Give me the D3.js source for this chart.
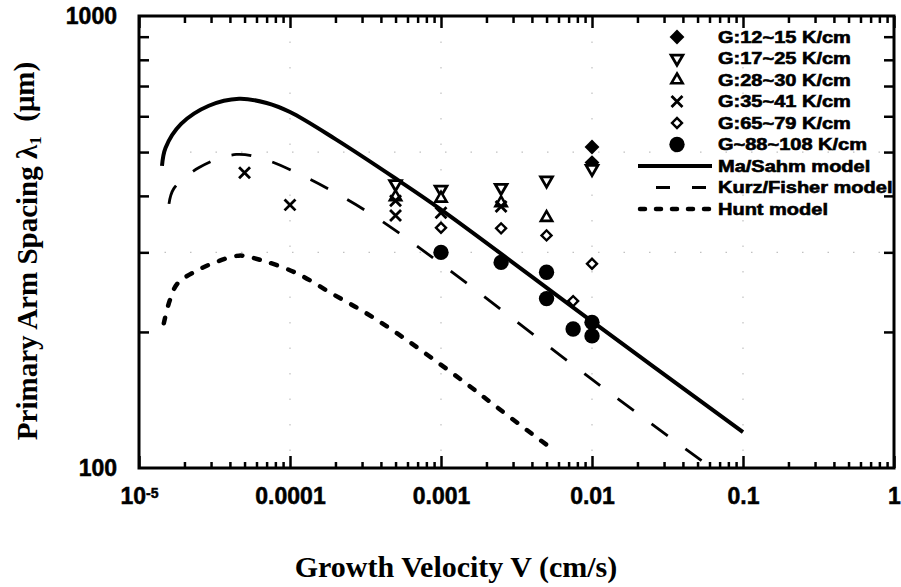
<!DOCTYPE html>
<html>
<head>
<meta charset="utf-8">
<script src="https://cdn.jsdelivr.net/npm/d3@7"></script>
<style>
  body { margin: 0; background: #fff; }
  svg { display: block; }
</style>
</head>
<body>
<svg id="graph"></svg>
<script>
// Points mesurés (V en cm/s, lambda en µm)
const g12v = [0.01, 0.01];
const g12l = [513, 474];

const g17v = [0.0005, 0.001, 0.0025, 0.005, 0.01];
const g17l = [425, 413, 417, 433, 459];

const g28v = [0.0005, 0.001, 0.0025, 0.005];
const g28l = [398, 395, 386, 358];

const g35v = [0.00005, 0.0001, 0.0005, 0.0005, 0.001, 0.0025];
const g35l = [450, 382, 390, 362, 367, 379];

const g65v = [0.001, 0.0025, 0.005, 0.0075, 0.01];
const g65l = [340, 339, 327, 234, 283];

const g88v = [0.001, 0.0025, 0.005, 0.005, 0.0075, 0.01, 0.01];
const g88l = [300, 285, 271, 237, 203, 210, 196];

// Modèles
const maSahmV = [1.42e-5, 1.5e-5, 1.9e-5, 2.9e-5, 4.6e-5, 7e-5, 1e-4, 2e-4, 5e-4, 1e-3, 1e-2, 1e-1];
const maSahmL = [466, 511, 577, 633, 656, 642, 613, 534, 437, 373, 211, 120];

const kurzV = [1.58e-5, 1.7e-5, 2.5e-5, 4.4e-5, 7e-5, 1.15e-4, 1.9e-4, 3.7e-4, 1e-3, 1e-2, 0.07];
const kurzL = [384, 415, 462, 494, 480, 447, 410, 359, 283, 157, 97];

const huntV = [1.46e-5, 1.6e-5, 1.8e-5, 2.4e-5, 3.2e-5, 4.6e-5, 6.5e-5, 1.1e-4, 1.9e-4, 3.2e-4, 5.3e-4, 8.7e-4, 1.46e-3, 2.3e-3, 4e-3, 5.5e-3];
const huntL = [209, 235, 256, 273, 285, 295, 288, 270, 243, 220, 197, 175, 154, 137, 119, 110];

const legendLabels = [
  "G:12~15 K/cm", "G:17~25 K/cm", "G:28~30 K/cm", "G:35~41 K/cm",
  "G:65~79 K/cm", "G~88~108 K/cm", "Ma/Sahm model", "Kurz/Fisher model", "Hunt model"
];

const xDomain = [1e-5, 1];
const yDomain = [100, 1000];

// Dessin
const width = 901;
const height = 587;
const margin = { top: 16, right: 7, bottom: 119, left: 139 };

const svg = d3.select("#graph").attr("width", width).attr("height", height);

const x = d3.scaleLog(xDomain, [margin.left, width - margin.right]);
const y = d3.scaleLog(yDomain, [height - margin.bottom, margin.top]);

const zip = (vs, ls) => vs.map((v, i) => ({ v: v, l: ls[i] }));

svg.append("clipPath").attr("id", "plot")
  .append("rect")
  .attr("x", x(xDomain[0])).attr("y", y(yDomain[1]))
  .attr("width", x(xDomain[1]) - x(xDomain[0]))
  .attr("height", y(yDomain[0]) - y(yDomain[1]));

// grille pointillée très pâle (trame du scan)
const grid = svg.append("g").attr("stroke", "#999").attr("stroke-width", 1.2)
  .attr("stroke-dasharray", "1.5,24").attr("opacity", 0.6);
grid.selectAll("line.v")
  .data([1e-4, 1e-3, 1e-2, 1e-1])
  .join("line")
  .attr("x1", (d) => x(d)).attr("x2", (d) => x(d))
  .attr("y1", y(yDomain[1])).attr("y2", y(yDomain[0]));
grid.selectAll("line.h")
  .data([300, 500])
  .join("line")
  .attr("x1", x(xDomain[0])).attr("x2", x(xDomain[1]))
  .attr("y1", (d) => y(d)).attr("y2", (d) => y(d));

// axes
const decades = x.ticks().filter((d) => Math.abs(Math.log10(d) - Math.round(Math.log10(d))) < 1e-9);
const xMinor = x.ticks().filter((d) => !decades.includes(d));
const yMinor = y.ticks().filter((d) => d !== 100 && d !== 1000);

const fmtV = d3.format("~g");

function styleTicks(g) {
  g.select(".domain").remove();
  g.selectAll(".tick line").attr("stroke", "#000").attr("stroke-width", 2.5);
}

const xAxis = svg.append("g")
  .attr("transform", `translate(0,${y(yDomain[0])})`)
  .call(d3.axisBottom(x).tickValues(decades).tickSize(-12).tickPadding(20).tickFormat(fmtV))
  .call(styleTicks);
svg.append("g")
  .attr("transform", `translate(0,${y(yDomain[0])})`)
  .call(d3.axisBottom(x).tickValues(xMinor).tickSize(-6).tickFormat(""))
  .call(styleTicks);
svg.append("g")
  .attr("transform", `translate(0,${y(yDomain[1])})`)
  .call(d3.axisTop(x).tickValues(decades).tickSize(-12).tickFormat(""))
  .call(styleTicks);
svg.append("g")
  .attr("transform", `translate(0,${y(yDomain[1])})`)
  .call(d3.axisTop(x).tickValues(xMinor).tickSize(-7).tickFormat(""))
  .call(styleTicks);
svg.append("g")
  .attr("transform", `translate(${x(xDomain[0])},0)`)
  .call(d3.axisLeft(y).tickValues(yMinor).tickSize(-10).tickFormat(""))
  .call(styleTicks);
svg.append("g")
  .attr("transform", `translate(${x(xDomain[1])},0)`)
  .call(d3.axisRight(y).tickValues(yMinor).tickSize(-10).tickFormat(""))
  .call(styleTicks);
const yAxis = svg.append("g")
  .attr("transform", `translate(${x(xDomain[0])},0)`)
  .call(d3.axisLeft(y).tickValues([100, 1000]).tickSize(0).tickPadding(22).tickFormat(d3.format("d")))
  .call(styleTicks);

[xAxis, yAxis].forEach((g) =>
  g.selectAll("text")
    .attr("fill", "#000")
    .attr("stroke", "#000")
    .attr("stroke-width", 0.5)
    .style("font", "bold 23px 'Liberation Sans', Arial, sans-serif")
);

// 10^-5
xAxis.selectAll(".tick text")
  .filter((d) => d === 1e-5)
  .text("10")
  .append("tspan")
  .attr("dy", "-0.45em")
  .style("font-size", "14px")
  .text("-5");

// cadre
svg.append("rect")
  .attr("x", x(xDomain[0])).attr("y", y(yDomain[1]))
  .attr("width", x(xDomain[1]) - x(xDomain[0]))
  .attr("height", y(yDomain[0]) - y(yDomain[1]))
  .attr("fill", "none").attr("stroke", "#000").attr("stroke-width", 3);

// courbes des modèles
const line = d3.line()
  .x((d) => x(d.v))
  .y((d) => y(d.l))
  .curve(d3.curveCatmullRom.alpha(0.5));

const curves = svg.append("g").attr("clip-path", "url(#plot)").attr("fill", "none").attr("stroke", "#000");
curves.append("path").datum(zip(maSahmV, maSahmL))
  .attr("d", line).attr("stroke-width", 4);
curves.append("path").datum(zip(kurzV, kurzL))
  .attr("d", line).attr("stroke-width", 2.8).attr("stroke-dasharray", "20,22");
curves.append("path").datum(zip(huntV, huntL))
  .attr("d", line).attr("stroke-width", 4.5).attr("stroke-linecap", "round")
  .attr("stroke-dasharray", "6,12");

// marqueurs
const markers = [
  { data: zip(g12v, g12l), type: d3.symbolSquare, size: 110, rot: 45, fill: "#000", sw: 0 },
  { data: zip(g17v, g17l), type: d3.symbolTriangle, size: 60, rot: 180, fill: "#fff", sw: 2.8 },
  { data: zip(g28v, g28l), type: d3.symbolTriangle, size: 55, rot: 0, fill: "#fff", sw: 2.6 },
  { data: zip(g35v, g35l), type: d3.symbolTimes, size: 80, rot: 0, fill: "none", sw: 2.8 },
  { data: zip(g65v, g65l), type: d3.symbolSquare, size: 50, rot: 45, fill: "#fff", sw: 2.4 },
  { data: zip(g88v, g88l), type: d3.symbolCircle, size: 185, rot: 0, fill: "#000", sw: 0 }
];

const pts = svg.append("g");
markers.forEach((m) => {
  pts.append("g").selectAll("path")
    .data(m.data)
    .join("path")
    .attr("d", d3.symbol(m.type, m.size))
    .attr("transform", (d) => `translate(${x(d.v)},${y(d.l)}) rotate(${m.rot})`)
    .attr("fill", m.fill)
    .attr("stroke", "#000")
    .attr("stroke-width", m.sw);
});

// légende
const rowY = d3.scaleLinear([0, 8], [37, 209]);
const leg = svg.append("g");
markers.forEach((m, i) => {
  leg.append("path")
    .attr("d", d3.symbol(m.type, m.size))
    .attr("transform", `translate(677,${rowY(i)}) rotate(${m.rot})`)
    .attr("fill", m.fill)
    .attr("stroke", "#000")
    .attr("stroke-width", m.sw);
});
const legLines = [
  { sw: 4, dash: null, cap: "butt" },
  { sw: 2.8, dash: "14,22", cap: "butt", off: -18 },
  { sw: 4.5, dash: "5,11", cap: "round", off: -2 }
];
legLines.forEach((l, i) => {
  leg.append("line")
    .attr("x1", 638).attr("x2", 712)
    .attr("y1", rowY(6 + i)).attr("y2", rowY(6 + i))
    .attr("stroke", "#000")
    .attr("stroke-width", l.sw)
    .attr("stroke-linecap", l.cap)
    .attr("stroke-dasharray", l.dash)
    .attr("stroke-dashoffset", l.off || 0);
});
leg.selectAll("text")
  .data(legendLabels)
  .join("text")
  .attr("transform", (d, i) => `translate(718,${rowY(i)}) scale(1.25,1)`)
  .attr("dy", "0.36em")
  .attr("stroke", "#000")
  .attr("stroke-width", 0.6)
  .style("font", "bold 16px 'Liberation Sans', Arial, sans-serif")
  .text((d) => d);

// titres
svg.append("text")
  .attr("transform", "translate(37,251) rotate(-90)")
  .attr("text-anchor", "middle")
  .style("font", "bold 29px 'Liberation Serif', 'Times New Roman', serif")
  .text("Primary Arm Spacing λ")
  .call((t) => t.append("tspan").attr("dy", "0.25em").style("font-size", "17px").text("1"))
  .call((t) => t.append("tspan").attr("dy", "-0.25em").text("\u2002(μm)"));

svg.append("text")
  .attr("x", 456)
  .attr("y", 577)
  .attr("text-anchor", "middle")
  .style("font", "bold 30px 'Liberation Serif', 'Times New Roman', serif")
  .text("Growth Velocity V (cm/s)");
</script>
</body>
</html>
